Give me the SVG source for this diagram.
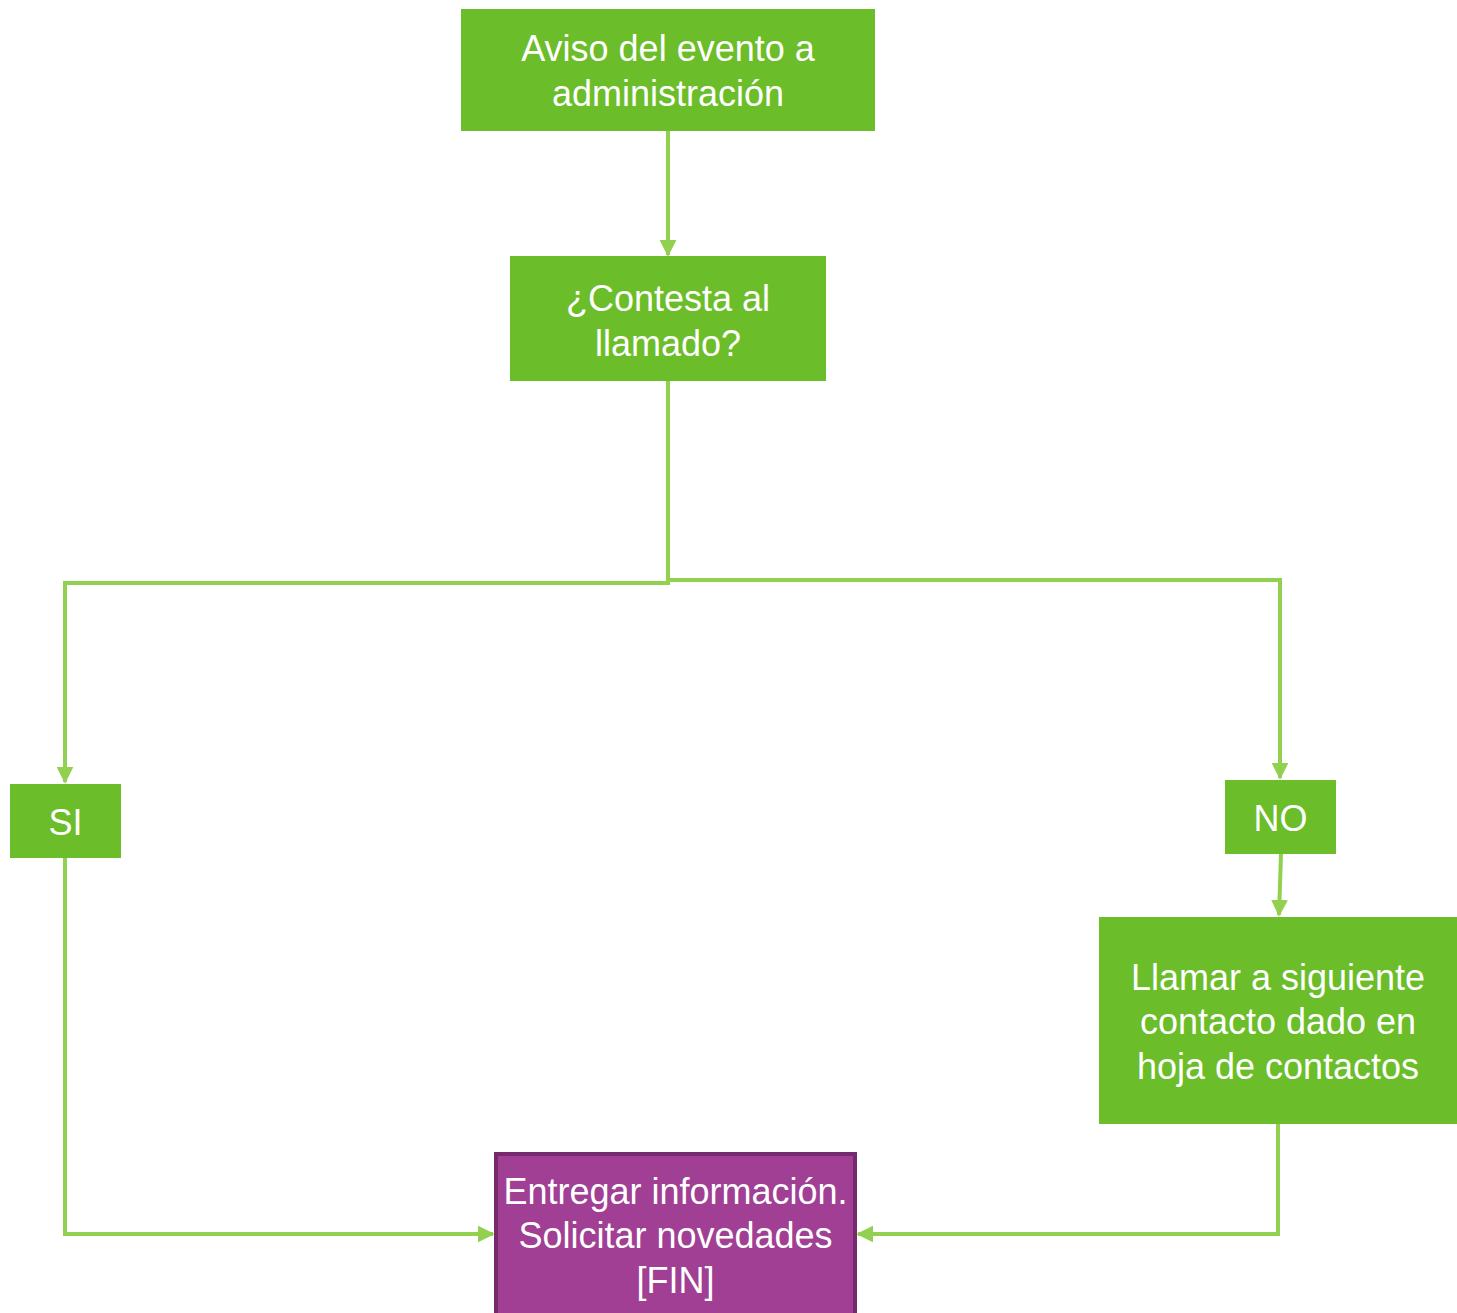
<svg xmlns="http://www.w3.org/2000/svg" width="1457" height="1313" viewBox="0 0 1457 1313">
  <style>
    .box { fill: #6BBD29; }
    .end { fill: #A03F93; stroke: #762A6E; stroke-width: 4; }
    .lbl { font-family: "Liberation Sans", "DejaVu Sans", sans-serif; font-size: 36px; fill: #FFFFFF; text-anchor: middle; }
    .wire { fill: none; stroke: #92D050; stroke-width: 4; }
  </style>
  <defs>
    <marker id="arrow" viewBox="0 0 10 10" refX="9" refY="5" markerWidth="4.2" markerHeight="4.2" orient="auto" markerUnits="strokeWidth">
      <path d="M0,0 L10,5 L0,10 Z" fill="#92D050"/>
    </marker>
  </defs>
  <rect width="1457" height="1313" fill="#FFFFFF"/>

  <g id="connectors">
    <line class="wire" x1="668" y1="131" x2="668" y2="255" marker-end="url(#arrow)"/>
    <polyline class="wire" points="668,381 668,583 65,583 65,782" marker-end="url(#arrow)"/>
    <polyline class="wire" points="668,580 1280,580 1280,778" marker-end="url(#arrow)"/>
    <line class="wire" x1="1281" y1="854" x2="1279" y2="915" marker-end="url(#arrow)"/>
    <polyline class="wire" points="65,858 65,1234 493,1234" marker-end="url(#arrow)"/>
    <polyline class="wire" points="1278,1124 1278,1234 858,1234" marker-end="url(#arrow)"/>
  </g>

  <g id="aviso">
    <rect class="box" x="461" y="9" width="414" height="122"/>
    <text class="lbl" x="668" y="61">Aviso del evento a</text>
    <text class="lbl" x="668" y="106">administración</text>
  </g>

  <g id="contesta">
    <rect class="box" x="510" y="256" width="316" height="125"/>
    <text class="lbl" x="668" y="311">¿Contesta al</text>
    <text class="lbl" x="668" y="356">llamado?</text>
  </g>

  <g id="si">
    <rect class="box" x="10" y="784" width="111" height="74"/>
    <text class="lbl" x="65.5" y="835">SI</text>
  </g>

  <g id="no">
    <rect class="box" x="1225" y="780" width="111" height="74"/>
    <text class="lbl" x="1280.5" y="831">NO</text>
  </g>

  <g id="llamar">
    <rect class="box" x="1099" y="917" width="358" height="207"/>
    <text class="lbl" x="1278" y="990">Llamar a siguiente</text>
    <text class="lbl" x="1278" y="1034">contacto dado en</text>
    <text class="lbl" x="1278" y="1079">hoja de contactos</text>
  </g>

  <g id="fin">
    <rect class="end" x="496" y="1154" width="359" height="161"/>
    <text class="lbl" x="675.5" y="1204">Entregar información.</text>
    <text class="lbl" x="675.5" y="1248">Solicitar novedades</text>
    <text class="lbl" x="675.5" y="1293">[FIN]</text>
  </g>
</svg>
